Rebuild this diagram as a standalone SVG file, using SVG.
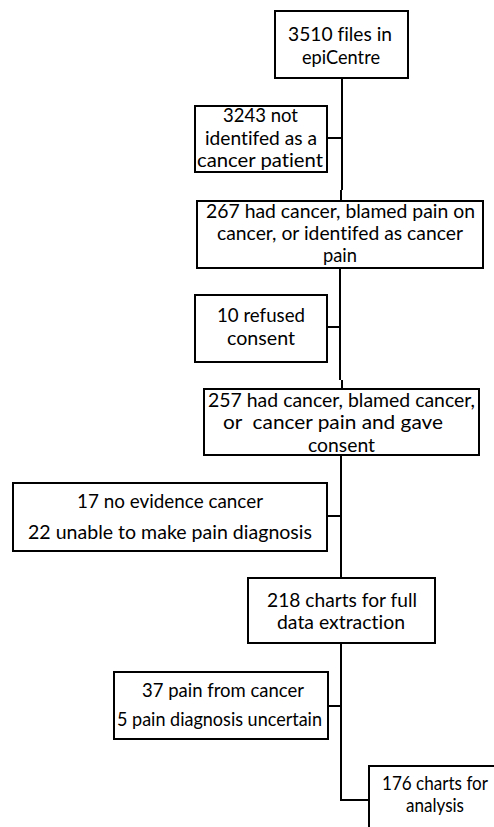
<svg xmlns="http://www.w3.org/2000/svg" width="494" height="827" viewBox="0 0 494 827">
<style>
.box{fill:#fff;stroke:#000;stroke-width:2}
.t{font-family:Lato,"Liberation Sans",sans-serif;font-size:18.7px;fill:#000;text-anchor:middle;white-space:pre;font-variant-ligatures:none}
.c{fill:none;stroke:#000;stroke-width:2}
</style>
<rect width="494" height="827" fill="#fff"/>
<g id="connectors">
<path class="c" d="M342 78V190M341 190V201"/>
<path class="c" d="M327 138H342"/>
<path class="c" d="M340 268V380M342 380V389"/>
<path class="c" d="M327 327H340"/>
<path class="c" d="M341 455V578"/>
<path class="c" d="M327 516H341"/>
<path class="c" d="M341 643V800H369"/>
<path class="c" d="M328 706H341"/>
</g>
<g id="n1"><rect class="box" x="275" y="11" width="133" height="67"/>
<text class="t" x="340" y="41" textLength="104" lengthAdjust="spacingAndGlyphs">3510 files in</text><text class="t" x="341" y="64" textLength="78" lengthAdjust="spacingAndGlyphs">epiCentre</text></g>
<g id="n2"><rect class="box" x="195" y="106" width="132" height="66"/>
<text class="t" x="260.5" y="122" textLength="75" lengthAdjust="spacingAndGlyphs">3243 not</text><text class="t" x="261" y="145" textLength="112" lengthAdjust="spacingAndGlyphs">identifed as a</text><text class="t" x="260" y="167" textLength="126" lengthAdjust="spacingAndGlyphs">cancer patient</text></g>
<g id="n3"><rect class="box" x="197" y="201" width="286" height="67"/>
<text class="t" x="340.5" y="218" textLength="269" lengthAdjust="spacingAndGlyphs">267 had cancer, blamed pain on</text><text class="t" x="340" y="240" textLength="246" lengthAdjust="spacingAndGlyphs">cancer, or identifed as cancer</text><text class="t" x="340" y="262" textLength="34" lengthAdjust="spacingAndGlyphs">pain</text></g>
<g id="n4"><rect class="box" x="195" y="295" width="132" height="67"/>
<text class="t" x="261" y="322" textLength="88" lengthAdjust="spacingAndGlyphs">10 refused</text><text class="t" x="261" y="345" textLength="68" lengthAdjust="spacingAndGlyphs">consent</text></g>
<g id="n5"><rect class="box" x="204" y="389" width="275" height="66"/>
<text class="t" x="341.5" y="407" textLength="267" lengthAdjust="spacingAndGlyphs">257 had cancer, blamed cancer,</text><text class="t" x="333" y="429" textLength="220" lengthAdjust="spacingAndGlyphs">or  cancer pain and gave</text><text class="t" x="341.5" y="452" textLength="67" lengthAdjust="spacingAndGlyphs">consent</text></g>
<g id="n6"><rect class="box" x="13" y="483" width="314" height="68"/>
<text class="t" x="170" y="508" textLength="186" lengthAdjust="spacingAndGlyphs">17 no evidence cancer</text><text class="t" x="170" y="539" textLength="284" lengthAdjust="spacingAndGlyphs">22 unable to make pain diagnosis</text></g>
<g id="n7"><rect class="box" x="248" y="578" width="187" height="65"/>
<text class="t" x="342" y="607" textLength="150" lengthAdjust="spacingAndGlyphs">218 charts for full</text><text class="t" x="341" y="629" textLength="128" lengthAdjust="spacingAndGlyphs">data extraction</text></g>
<g id="n8"><rect class="box" x="114" y="672" width="214" height="67"/>
<text class="t" x="223" y="697" textLength="162" lengthAdjust="spacingAndGlyphs">37 pain from cancer</text><text class="t" x="219.5" y="726" textLength="205" lengthAdjust="spacingAndGlyphs">5 pain diagnosis uncertain</text></g>
<g id="n9"><rect class="box" x="369" y="766" width="133" height="80"/>
<text class="t" x="435" y="790" textLength="106" lengthAdjust="spacingAndGlyphs">176 charts for</text><text class="t" x="435" y="812" textLength="58" lengthAdjust="spacingAndGlyphs">analysis</text></g>
</svg>
